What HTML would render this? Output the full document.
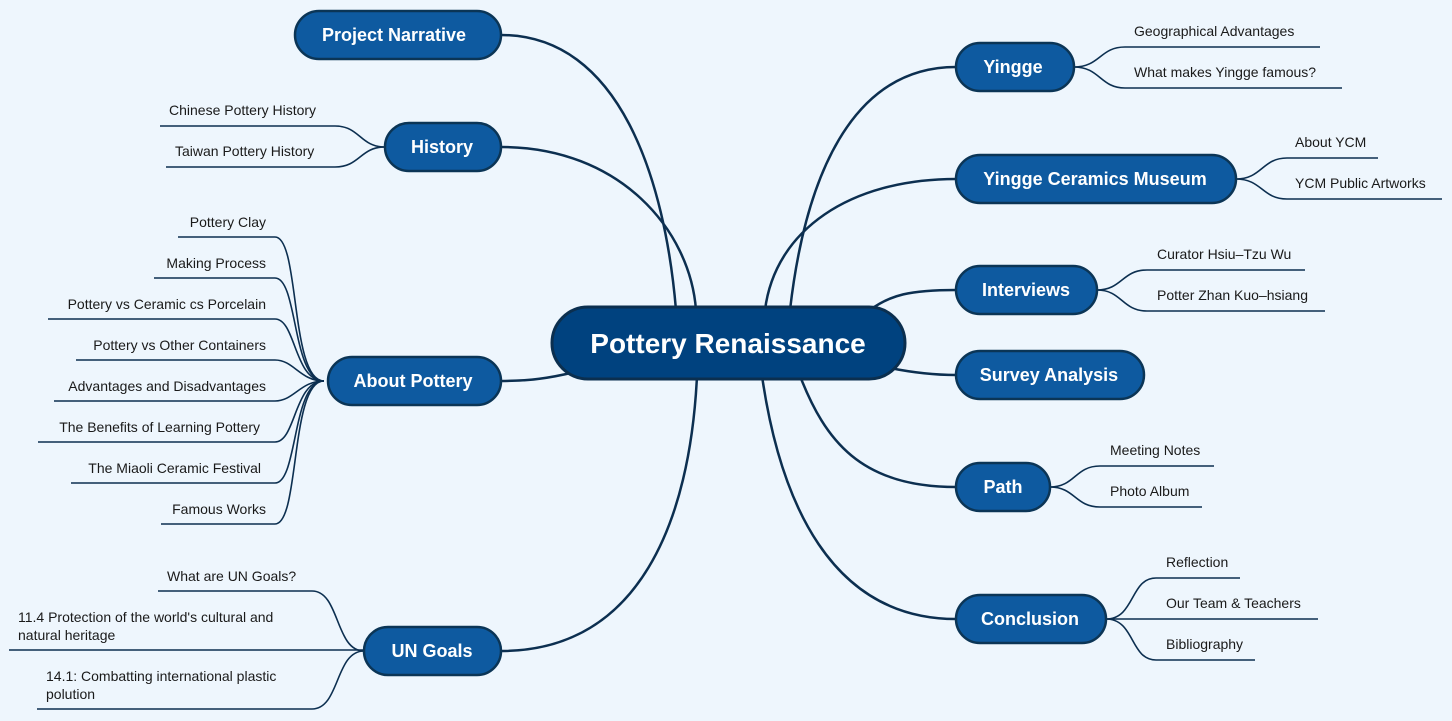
<!DOCTYPE html>
<html><head><meta charset="utf-8"><style>
html,body{margin:0;padding:0;background:#eef6fd;}
svg{display:block}
text{font-family:"Liberation Sans",sans-serif;}
.leaf{font-size:14px;fill:#1a1a1a;}
.br{font-size:18px;font-weight:bold;fill:#fff;}
</style></head><body>
<svg width="1452" height="721" viewBox="0 0 1452 721" xmlns="http://www.w3.org/2000/svg">
<rect width="1452" height="721" fill="#eef6fd"/>
<g fill="none" stroke="#0c2f50" stroke-width="2.5">
<path d="M501,35 C620,35 665,180 676,310"/>
<path d="M501,147 C620,147 690,230 696,310"/>
<path d="M501,381 C530,381 550,378 575,372"/>
<path d="M501,651 C640,651 690,520 697,376"/>
<path d="M956,67 C850,67 805,180 790,310"/>
<path d="M956,179 C850,179 775,230 765,310"/>
<path d="M956,290 C910,290 890,295 870,310"/>
<path d="M956,375 C930,375 910,372 890,368"/>
<path d="M956,487 C860,487 825,440 800,376"/>
<path d="M956,619 C830,619 780,500 762,376"/>
</g>
<g fill="none" stroke="#0c2f50" stroke-width="1.6">
<path d="M160,126 H335 C360,126 360,147 385,147"/>
<path d="M166,167 H335 C360,167 360,147 385,147"/>
<path d="M178,237 H275 C300,237 290,381 324,381"/>
<path d="M154,278 H275 C298,278 292,381 324,381"/>
<path d="M48,319 H275 C296,319 294,381 324,381"/>
<path d="M76,360 H275 C294,360 300,381 324,381"/>
<path d="M54,401 H275 C294,401 300,381 324,381"/>
<path d="M38,442 H275 C296,442 294,381 324,381"/>
<path d="M71,483 H275 C298,483 292,381 324,381"/>
<path d="M161,524 H275 C300,524 290,381 324,381"/>
<path d="M158,591 H312 C340,591 335,651 364,651"/>
<path d="M9,650 H364"/>
<path d="M37,709 H312 C340,709 335,651 364,651"/>
<path d="M1074,67 C1100,67 1100,47 1125,47 H1320"/>
<path d="M1074,67 C1100,67 1100,88 1125,88 H1342"/>
<path d="M1236,179 C1262,179 1262,158 1287,158 H1378"/>
<path d="M1236,179 C1262,179 1262,199 1287,199 H1442"/>
<path d="M1097,290 C1122,290 1122,270 1147,270 H1305"/>
<path d="M1097,290 C1122,290 1122,311 1147,311 H1325"/>
<path d="M1050,487 C1075,487 1075,466 1100,466 H1214"/>
<path d="M1050,487 C1075,487 1075,507 1100,507 H1202"/>
<path d="M1106,619 C1135,619 1130,578 1156,578 H1240"/>
<path d="M1106,619 H1318"/>
<path d="M1106,619 C1135,619 1130,660 1156,660 H1255"/>
</g>
<rect x="552" y="307" width="353" height="72" rx="36" fill="#00427f" stroke="#0b2f4f" stroke-width="3"/>
<text x="728" y="353" text-anchor="middle" font-size="28" font-weight="bold" fill="#fff">Pottery Renaissance</text>
<g fill="#0e5aa0" stroke="#0b3556" stroke-width="2.5">
<rect x="295" y="11" width="206" height="48" rx="24"/>
<rect x="385" y="123" width="116" height="48" rx="24"/>
<rect x="328" y="357" width="173" height="48" rx="24"/>
<rect x="364" y="627" width="137" height="48" rx="24"/>
<rect x="956" y="43" width="118" height="48" rx="24"/>
<rect x="956" y="155" width="280" height="48" rx="24"/>
<rect x="956" y="266" width="141" height="48" rx="24"/>
<rect x="956" y="351" width="188" height="48" rx="24"/>
<rect x="956" y="463" width="94" height="48" rx="24"/>
<rect x="956" y="595" width="150" height="48" rx="24"/>
</g>
<g class="br" text-anchor="middle">
<text x="394" y="41">Project Narrative</text>
<text x="442" y="153">History</text>
<text x="413" y="387">About Pottery</text>
<text x="432" y="657">UN Goals</text>
<text x="1013" y="73">Yingge</text>
<text x="1095" y="185">Yingge Ceramics Museum</text>
<text x="1026" y="296">Interviews</text>
<text x="1049" y="381">Survey Analysis</text>
<text x="1003" y="493">Path</text>
<text x="1030" y="625">Conclusion</text>
</g>
<g class="leaf">
<text x="169" y="115">Chinese Pottery History</text>
<text x="175" y="156">Taiwan Pottery History</text>
<g text-anchor="end">
<text x="266" y="227">Pottery Clay</text>
<text x="266" y="268">Making Process</text>
<text x="266" y="309">Pottery vs Ceramic cs Porcelain</text>
<text x="266" y="350">Pottery vs Other Containers</text>
<text x="266" y="391">Advantages and Disadvantages</text>
<text x="260" y="432">The Benefits of Learning Pottery</text>
<text x="261" y="473">The Miaoli Ceramic Festival</text>
<text x="266" y="514">Famous Works</text>
</g>
<text x="167" y="581">What are UN Goals?</text>
<text x="18" y="622">11.4 Protection of the world's cultural and</text>
<text x="18" y="640">natural heritage</text>
<text x="46" y="681">14.1: Combatting international plastic</text>
<text x="46" y="699">polution</text>
<text x="1134" y="36">Geographical Advantages</text>
<text x="1134" y="77">What makes Yingge famous?</text>
<text x="1295" y="147">About YCM</text>
<text x="1295" y="188">YCM Public Artworks</text>
<text x="1157" y="259">Curator Hsiu–Tzu Wu</text>
<text x="1157" y="300">Potter Zhan Kuo–hsiang</text>
<text x="1110" y="455">Meeting Notes</text>
<text x="1110" y="496">Photo Album</text>
<text x="1166" y="567">Reflection</text>
<text x="1166" y="608">Our Team &amp; Teachers</text>
<text x="1166" y="649">Bibliography</text>
</g>
</svg>
</body></html>
